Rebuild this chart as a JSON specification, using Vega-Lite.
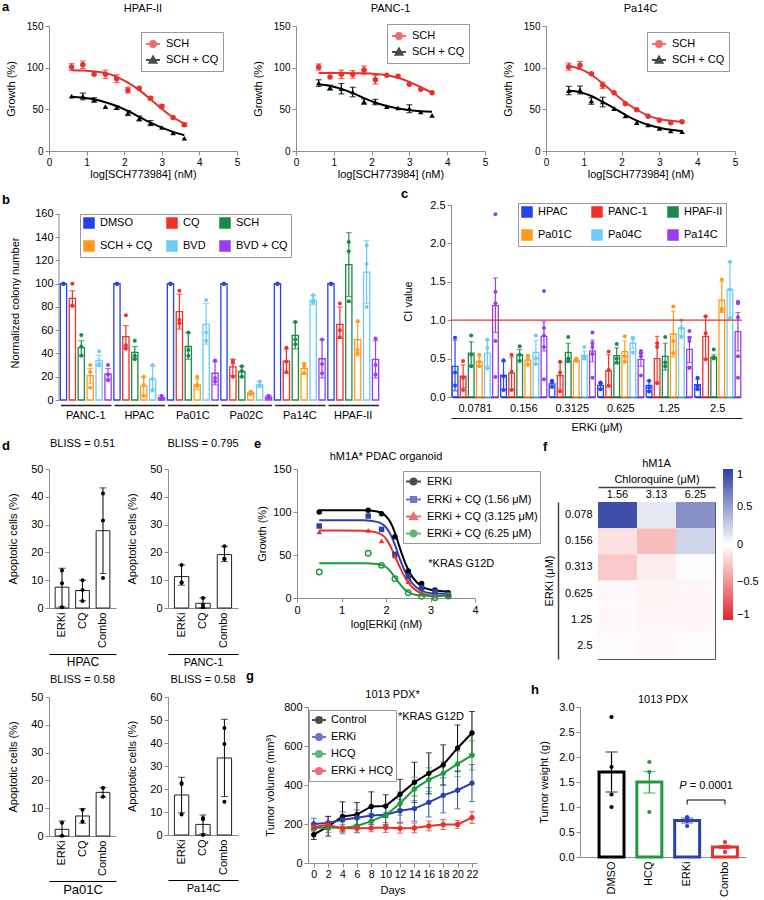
{
"$schema": "https://vega.github.io/schema/vega-lite/v6.json",
"padding": 0,
"background": "white",
"data": {"values": [{"z": 0}]},
"spacing": 0,
"resolve": {"scale": {"color": "independent", "shape": "independent", "xOffset": "independent"}},
"config": {
 "font": "Liberation Sans",
 "view": {"stroke": null},
 "axis": {"labelFontSize": 11, "titleFontSize": 11, "titleFontWeight": "normal", "labelColor": "#000", "titleColor": "#000", "domainColor": "#8c8c8c", "tickColor": "#8c8c8c", "tickSize": 4, "grid": false, "labelPadding": 2, "labelOverlap": false, "labelFlush": false, "labelSeparation": -40},
 "title": {"fontSize": 11, "fontWeight": "normal", "color": "#000"},
 "legend": {"labelFontSize": 11, "labelColor": "#000"},
 "text": {"fontSize": 11}
},
"datasets": {
 "a1p": [
  {"s":"SCH","x":0.6,"y":100.8,"lo":96.8,"hi":104.8},{"s":"SCH","x":0.9,"y":103.6,"lo":99,"hi":108},{"s":"SCH","x":1.2,"y":92},{"s":"SCH","x":1.5,"y":92,"lo":87,"hi":97},{"s":"SCH","x":1.8,"y":86.7,"lo":82,"hi":91.5},{"s":"SCH","x":2.1,"y":73,"lo":69.5,"hi":76.5},{"s":"SCH","x":2.4,"y":75.4},{"s":"SCH","x":2.7,"y":63.3,"lo":61,"hi":65.5},{"s":"SCH","x":3.0,"y":53.6,"lo":51.5,"hi":55.5},{"s":"SCH","x":3.3,"y":40.3},{"s":"SCH","x":3.6,"y":31.5,"lo":29.5,"hi":33.5},
  {"s":"SCH + CQ","x":0.6,"y":65.7},{"s":"SCH + CQ","x":0.9,"y":65.7,"lo":61.5,"hi":69.5},{"s":"SCH + CQ","x":1.2,"y":61.3,"lo":58.5,"hi":64},{"s":"SCH + CQ","x":1.5,"y":53.2},{"s":"SCH + CQ","x":1.8,"y":52,"lo":50,"hi":54},{"s":"SCH + CQ","x":2.1,"y":45.6,"lo":42.5,"hi":48.5},{"s":"SCH + CQ","x":2.4,"y":39,"lo":36,"hi":42},{"s":"SCH + CQ","x":2.7,"y":33.5,"lo":30.5,"hi":36.5},{"s":"SCH + CQ","x":3.0,"y":28.2},{"s":"SCH + CQ","x":3.3,"y":21.8},{"s":"SCH + CQ","x":3.6,"y":15.3}],
 "a1f": [
  {"s":"SCH","x":0.6,"y":97},{"s":"SCH","x":0.9,"y":96.5},{"s":"SCH","x":1.2,"y":95.5},{"s":"SCH","x":1.5,"y":93.5},{"s":"SCH","x":1.8,"y":89},{"s":"SCH","x":2.1,"y":82},{"s":"SCH","x":2.4,"y":73},{"s":"SCH","x":2.7,"y":62},{"s":"SCH","x":3.0,"y":50.5},{"s":"SCH","x":3.3,"y":40.5},{"s":"SCH","x":3.6,"y":33},
  {"s":"SCH + CQ","x":0.6,"y":65},{"s":"SCH + CQ","x":0.9,"y":64},{"s":"SCH + CQ","x":1.2,"y":62},{"s":"SCH + CQ","x":1.5,"y":58.5},{"s":"SCH + CQ","x":1.8,"y":54},{"s":"SCH + CQ","x":2.1,"y":48},{"s":"SCH + CQ","x":2.4,"y":41},{"s":"SCH + CQ","x":2.7,"y":34},{"s":"SCH + CQ","x":3.0,"y":28},{"s":"SCH + CQ","x":3.3,"y":23},{"s":"SCH + CQ","x":3.6,"y":19}],
 "a2p": [
  {"s":"SCH","x":0.6,"y":100.8,"lo":97,"hi":104.5},{"s":"SCH","x":0.9,"y":88.8},{"s":"SCH","x":1.2,"y":92,"lo":87,"hi":97},{"s":"SCH","x":1.5,"y":92,"lo":87.5,"hi":96.5},{"s":"SCH","x":1.8,"y":97.2,"lo":92,"hi":102},{"s":"SCH","x":2.1,"y":85.6,"lo":80.5,"hi":90.5},{"s":"SCH","x":2.4,"y":90.8},{"s":"SCH","x":2.7,"y":89.6},{"s":"SCH","x":3.0,"y":80},{"s":"SCH","x":3.3,"y":74},{"s":"SCH","x":3.6,"y":70},
  {"s":"SCH + CQ","x":0.6,"y":81.6,"lo":77.5,"hi":85.5},{"s":"SCH + CQ","x":0.9,"y":76,"lo":73,"hi":79},{"s":"SCH + CQ","x":1.2,"y":74.8,"lo":68.5,"hi":81},{"s":"SCH + CQ","x":1.5,"y":70.8,"lo":65,"hi":76.5},{"s":"SCH + CQ","x":1.8,"y":59.2,"lo":56,"hi":62.5},{"s":"SCH + CQ","x":2.1,"y":58.8,"lo":55.5,"hi":62},{"s":"SCH + CQ","x":2.4,"y":53.2},{"s":"SCH + CQ","x":2.7,"y":51.6},{"s":"SCH + CQ","x":3.0,"y":50.8,"lo":46,"hi":55.5},{"s":"SCH + CQ","x":3.3,"y":46.8},{"s":"SCH + CQ","x":3.6,"y":42.8}],
 "a2f": [
  {"s":"SCH","x":0.6,"y":93.5},{"s":"SCH","x":0.9,"y":93.5},{"s":"SCH","x":1.2,"y":93.5},{"s":"SCH","x":1.5,"y":93.4},{"s":"SCH","x":1.8,"y":93.2},{"s":"SCH","x":2.1,"y":92.5},{"s":"SCH","x":2.4,"y":91},{"s":"SCH","x":2.7,"y":88},{"s":"SCH","x":3.0,"y":83},{"s":"SCH","x":3.3,"y":76.5},{"s":"SCH","x":3.6,"y":70},
  {"s":"SCH + CQ","x":0.6,"y":80},{"s":"SCH + CQ","x":0.9,"y":78},{"s":"SCH + CQ","x":1.2,"y":74.5},{"s":"SCH + CQ","x":1.5,"y":69.5},{"s":"SCH + CQ","x":1.8,"y":63.5},{"s":"SCH + CQ","x":2.1,"y":58},{"s":"SCH + CQ","x":2.4,"y":54},{"s":"SCH + CQ","x":2.7,"y":51},{"s":"SCH + CQ","x":3.0,"y":49},{"s":"SCH + CQ","x":3.3,"y":47.7},{"s":"SCH + CQ","x":3.6,"y":47}],
 "a3p": [
  {"s":"SCH","x":0.6,"y":101.2,"lo":97,"hi":105.5},{"s":"SCH","x":0.9,"y":102.8,"lo":98,"hi":107.5},{"s":"SCH","x":1.2,"y":92.8},{"s":"SCH","x":1.5,"y":78.8,"lo":75,"hi":82.5},{"s":"SCH","x":1.8,"y":70},{"s":"SCH","x":2.1,"y":56.8},{"s":"SCH","x":2.4,"y":49.6},{"s":"SCH","x":2.7,"y":41.6},{"s":"SCH","x":3.0,"y":36.8},{"s":"SCH","x":3.3,"y":34},{"s":"SCH","x":3.6,"y":35.2},
  {"s":"SCH + CQ","x":0.6,"y":72.4,"lo":67.5,"hi":77.5},{"s":"SCH + CQ","x":0.9,"y":73.2,"lo":68.5,"hi":78},{"s":"SCH + CQ","x":1.2,"y":60,"lo":56,"hi":64},{"s":"SCH + CQ","x":1.5,"y":58.8,"lo":53,"hi":64.5},{"s":"SCH + CQ","x":1.8,"y":50.8},{"s":"SCH + CQ","x":2.1,"y":42},{"s":"SCH + CQ","x":2.4,"y":34},{"s":"SCH + CQ","x":2.7,"y":31.2},{"s":"SCH + CQ","x":3.0,"y":27.2},{"s":"SCH + CQ","x":3.3,"y":24},{"s":"SCH + CQ","x":3.6,"y":23.2}],
 "a3f": [
  {"s":"SCH","x":0.6,"y":102},{"s":"SCH","x":0.9,"y":98.5},{"s":"SCH","x":1.2,"y":91.5},{"s":"SCH","x":1.5,"y":81},{"s":"SCH","x":1.8,"y":69.5},{"s":"SCH","x":2.1,"y":58.5},{"s":"SCH","x":2.4,"y":49.5},{"s":"SCH","x":2.7,"y":42.5},{"s":"SCH","x":3.0,"y":38.5},{"s":"SCH","x":3.3,"y":36.3},{"s":"SCH","x":3.6,"y":35.3},
  {"s":"SCH + CQ","x":0.6,"y":72.5},{"s":"SCH + CQ","x":0.9,"y":70.5},{"s":"SCH + CQ","x":1.2,"y":66},{"s":"SCH + CQ","x":1.5,"y":59},{"s":"SCH + CQ","x":1.8,"y":51.5},{"s":"SCH + CQ","x":2.1,"y":43.5},{"s":"SCH + CQ","x":2.4,"y":36.5},{"s":"SCH + CQ","x":2.7,"y":31.5},{"s":"SCH + CQ","x":3.0,"y":28},{"s":"SCH + CQ","x":3.3,"y":25.5},{"s":"SCH + CQ","x":3.6,"y":24}],
 "bb": [
  {"g":"PANC-1","t":"DMSO","m":100},{"g":"PANC-1","t":"CQ","m":87.5,"lo":81,"hi":94},{"g":"PANC-1","t":"SCH","m":45,"lo":38.5,"hi":51},{"g":"PANC-1","t":"SCH + CQ","m":21,"lo":14,"hi":27},{"g":"PANC-1","t":"BVD","m":34,"lo":29,"hi":38.5},{"g":"PANC-1","t":"BVD + CQ","m":22.5,"lo":18,"hi":27},
  {"g":"HPAC","t":"DMSO","m":100},{"g":"HPAC","t":"CQ","m":54.5,"lo":45,"hi":64},{"g":"HPAC","t":"SCH","m":41,"lo":36,"hi":46},{"g":"HPAC","t":"SCH + CQ","m":12,"lo":4,"hi":20},{"g":"HPAC","t":"BVD","m":18,"lo":7,"hi":29},{"g":"HPAC","t":"BVD + CQ","m":2,"lo":0,"hi":4},
  {"g":"Pa01C","t":"DMSO","m":100},{"g":"Pa01C","t":"CQ","m":76,"lo":61,"hi":91},{"g":"Pa01C","t":"SCH","m":46,"lo":35,"hi":58},{"g":"Pa01C","t":"SCH + CQ","m":13,"lo":9,"hi":18},{"g":"Pa01C","t":"BVD","m":65,"lo":48,"hi":83},{"g":"Pa01C","t":"BVD + CQ","m":23,"lo":13,"hi":33},
  {"g":"Pa02C","t":"DMSO","m":100},{"g":"Pa02C","t":"CQ","m":28.5,"lo":21,"hi":35},{"g":"Pa02C","t":"SCH","m":24.5,"lo":20,"hi":29},{"g":"Pa02C","t":"SCH + CQ","m":6,"lo":5,"hi":7},{"g":"Pa02C","t":"BVD","m":13,"lo":11,"hi":16},{"g":"Pa02C","t":"BVD + CQ","m":2.5,"lo":1,"hi":4},
  {"g":"Pa14C","t":"DMSO","m":100},{"g":"Pa14C","t":"CQ","m":33.5,"lo":23,"hi":44},{"g":"Pa14C","t":"SCH","m":55.5,"lo":44,"hi":67},{"g":"Pa14C","t":"SCH + CQ","m":27,"lo":22,"hi":32},{"g":"Pa14C","t":"BVD","m":85.5,"lo":82,"hi":90},{"g":"Pa14C","t":"BVD + CQ","m":35.5,"lo":19,"hi":52},
  {"g":"HPAF-II","t":"DMSO","m":100},{"g":"HPAF-II","t":"CQ","m":65,"lo":53,"hi":80},{"g":"HPAF-II","t":"SCH","m":116.5,"lo":89,"hi":144},{"g":"HPAF-II","t":"SCH + CQ","m":52,"lo":38,"hi":67},{"g":"HPAF-II","t":"BVD","m":110,"lo":83,"hi":137},{"g":"HPAF-II","t":"BVD + CQ","m":35,"lo":19,"hi":51}],
 "bp": [
  {"g":"PANC-1","t":"DMSO","v":100},{"g":"PANC-1","t":"DMSO","v":100},{"g":"PANC-1","t":"DMSO","v":100},{"g":"PANC-1","t":"CQ","v":100},{"g":"PANC-1","t":"CQ","v":81},{"g":"PANC-1","t":"CQ","v":81},{"g":"PANC-1","t":"SCH","v":56},{"g":"PANC-1","t":"SCH","v":46},{"g":"PANC-1","t":"SCH","v":38},{"g":"PANC-1","t":"SCH + CQ","v":30},{"g":"PANC-1","t":"SCH + CQ","v":24},{"g":"PANC-1","t":"SCH + CQ","v":10.5},{"g":"PANC-1","t":"BVD","v":42},{"g":"PANC-1","t":"BVD","v":31},{"g":"PANC-1","t":"BVD","v":30},{"g":"PANC-1","t":"BVD + CQ","v":30},{"g":"PANC-1","t":"BVD + CQ","v":22},{"g":"PANC-1","t":"BVD + CQ","v":17},
  {"g":"HPAC","t":"DMSO","v":100},{"g":"HPAC","t":"DMSO","v":100},{"g":"HPAC","t":"DMSO","v":100},{"g":"HPAC","t":"CQ","v":73},{"g":"HPAC","t":"CQ","v":47},{"g":"HPAC","t":"CQ","v":44},{"g":"HPAC","t":"SCH","v":51},{"g":"HPAC","t":"SCH","v":38},{"g":"HPAC","t":"SCH","v":35},{"g":"HPAC","t":"SCH + CQ","v":20},{"g":"HPAC","t":"SCH + CQ","v":13},{"g":"HPAC","t":"SCH + CQ","v":3.5},{"g":"HPAC","t":"BVD","v":30},{"g":"HPAC","t":"BVD","v":18},{"g":"HPAC","t":"BVD","v":8.5},{"g":"HPAC","t":"BVD + CQ","v":3.5},{"g":"HPAC","t":"BVD + CQ","v":1.5},{"g":"HPAC","t":"BVD + CQ","v":1},
  {"g":"Pa01C","t":"DMSO","v":100},{"g":"Pa01C","t":"DMSO","v":100},{"g":"Pa01C","t":"DMSO","v":100},{"g":"Pa01C","t":"CQ","v":94},{"g":"Pa01C","t":"CQ","v":69},{"g":"Pa01C","t":"CQ","v":66},{"g":"Pa01C","t":"SCH","v":58},{"g":"Pa01C","t":"SCH","v":43},{"g":"Pa01C","t":"SCH","v":38},{"g":"Pa01C","t":"SCH + CQ","v":20},{"g":"Pa01C","t":"SCH + CQ","v":13},{"g":"Pa01C","t":"SCH + CQ","v":12},{"g":"Pa01C","t":"BVD","v":86},{"g":"Pa01C","t":"BVD","v":58},{"g":"Pa01C","t":"BVD","v":51},{"g":"Pa01C","t":"BVD + CQ","v":34},{"g":"Pa01C","t":"BVD + CQ","v":19},{"g":"Pa01C","t":"BVD + CQ","v":16},
  {"g":"Pa02C","t":"DMSO","v":100},{"g":"Pa02C","t":"DMSO","v":100},{"g":"Pa02C","t":"DMSO","v":100},{"g":"Pa02C","t":"CQ","v":34},{"g":"Pa02C","t":"CQ","v":32},{"g":"Pa02C","t":"CQ","v":20},{"g":"Pa02C","t":"SCH","v":29},{"g":"Pa02C","t":"SCH","v":25},{"g":"Pa02C","t":"SCH","v":20},{"g":"Pa02C","t":"SCH + CQ","v":7},{"g":"Pa02C","t":"SCH + CQ","v":6},{"g":"Pa02C","t":"SCH + CQ","v":5},{"g":"Pa02C","t":"BVD","v":16},{"g":"Pa02C","t":"BVD","v":13},{"g":"Pa02C","t":"BVD","v":12},{"g":"Pa02C","t":"BVD + CQ","v":3.5},{"g":"Pa02C","t":"BVD + CQ","v":2},{"g":"Pa02C","t":"BVD + CQ","v":2},
  {"g":"Pa14C","t":"DMSO","v":100},{"g":"Pa14C","t":"DMSO","v":100},{"g":"Pa14C","t":"DMSO","v":100},{"g":"Pa14C","t":"CQ","v":45},{"g":"Pa14C","t":"CQ","v":33},{"g":"Pa14C","t":"CQ","v":24},{"g":"Pa14C","t":"SCH","v":67},{"g":"Pa14C","t":"SCH","v":52},{"g":"Pa14C","t":"SCH","v":48},{"g":"Pa14C","t":"SCH + CQ","v":31},{"g":"Pa14C","t":"SCH + CQ","v":29},{"g":"Pa14C","t":"SCH + CQ","v":23},{"g":"Pa14C","t":"BVD","v":90},{"g":"Pa14C","t":"BVD","v":86},{"g":"Pa14C","t":"BVD","v":84},{"g":"Pa14C","t":"BVD + CQ","v":52},{"g":"Pa14C","t":"BVD + CQ","v":31},{"g":"Pa14C","t":"BVD + CQ","v":23},
  {"g":"HPAF-II","t":"DMSO","v":100},{"g":"HPAF-II","t":"DMSO","v":100},{"g":"HPAF-II","t":"DMSO","v":100},{"g":"HPAF-II","t":"CQ","v":83},{"g":"HPAF-II","t":"CQ","v":60},{"g":"HPAF-II","t":"CQ","v":54},{"g":"HPAF-II","t":"SCH","v":136},{"g":"HPAF-II","t":"SCH","v":128},{"g":"HPAF-II","t":"SCH","v":85},{"g":"HPAF-II","t":"SCH + CQ","v":68},{"g":"HPAF-II","t":"SCH + CQ","v":43},{"g":"HPAF-II","t":"SCH + CQ","v":40},{"g":"HPAF-II","t":"BVD","v":133},{"g":"HPAF-II","t":"BVD","v":117},{"g":"HPAF-II","t":"BVD","v":80},{"g":"HPAF-II","t":"BVD + CQ","v":53},{"g":"HPAF-II","t":"BVD + CQ","v":30},{"g":"HPAF-II","t":"BVD + CQ","v":22}],
 "cb": [
  {"g":"0.0781","t":"HPAC","m":0.40,"lo":0.08,"hi":0.74},{"g":"0.0781","t":"PANC-1","m":0.27,"lo":0.12,"hi":0.42},{"g":"0.0781","t":"HPAF-II","m":0.57,"lo":0.42,"hi":0.72},{"g":"0.0781","t":"Pa01C","m":0.46,"lo":0.40,"hi":0.52},{"g":"0.0781","t":"Pa04C","m":0.57,"lo":0.40,"hi":0.74},{"g":"0.0781","t":"Pa14C","m":1.19,"lo":0.84,"hi":1.55},
  {"g":"0.156","t":"HPAC","m":0.28,"lo":0.10,"hi":0.46},{"g":"0.156","t":"PANC-1","m":0.31,"lo":0.10,"hi":0.52},{"g":"0.156","t":"HPAF-II","m":0.55,"lo":0.48,"hi":0.62},{"g":"0.156","t":"Pa01C","m":0.48,"lo":0.43,"hi":0.53},{"g":"0.156","t":"Pa04C","m":0.58,"lo":0.42,"hi":0.74},{"g":"0.156","t":"Pa14C","m":0.79,"lo":0.60,"hi":0.98},
  {"g":"0.3125","t":"HPAC","m":0.17,"lo":0.14,"hi":0.20},{"g":"0.3125","t":"PANC-1","m":0.28,"lo":0.10,"hi":0.45},{"g":"0.3125","t":"HPAF-II","m":0.58,"lo":0.45,"hi":0.70},{"g":"0.3125","t":"Pa01C","m":0.48,"lo":0.47,"hi":0.50},{"g":"0.3125","t":"Pa04C","m":0.54,"lo":0.49,"hi":0.60},{"g":"0.3125","t":"Pa14C","m":0.60,"lo":0.46,"hi":0.74},
  {"g":"0.625","t":"HPAC","m":0.15,"lo":0.11,"hi":0.18},{"g":"0.625","t":"PANC-1","m":0.34,"lo":0.13,"hi":0.55},{"g":"0.625","t":"HPAF-II","m":0.54,"lo":0.43,"hi":0.64},{"g":"0.625","t":"Pa01C","m":0.59,"lo":0.45,"hi":0.73},{"g":"0.625","t":"Pa04C","m":0.70,"lo":0.63,"hi":0.78},{"g":"0.625","t":"Pa14C","m":0.49,"lo":0.40,"hi":0.58},
  {"g":"1.25","t":"HPAC","m":0.15,"lo":0.08,"hi":0.21},{"g":"1.25","t":"PANC-1","m":0.50,"lo":0.20,"hi":0.79},{"g":"1.25","t":"HPAF-II","m":0.53,"lo":0.35,"hi":0.70},{"g":"1.25","t":"Pa01C","m":0.82,"lo":0.52,"hi":1.12},{"g":"1.25","t":"Pa04C","m":0.90,"lo":0.80,"hi":1.00},{"g":"1.25","t":"Pa14C","m":0.62,"lo":0.45,"hi":0.78},
  {"g":"2.5","t":"HPAC","m":0.16,"lo":0.10,"hi":0.23},{"g":"2.5","t":"PANC-1","m":0.79,"lo":0.50,"hi":1.05},{"g":"2.5","t":"HPAF-II","m":0.52,"lo":0.50,"hi":0.55},{"g":"2.5","t":"Pa01C","m":1.26,"lo":1.10,"hi":1.50},{"g":"2.5","t":"Pa04C","m":1.40,"lo":1.03,"hi":1.76},{"g":"2.5","t":"Pa14C","m":0.85,"lo":0.60,"hi":1.10}],
 "cp": [
  {"g":"0.0781","t":"HPAC","v":0.77},{"g":"0.0781","t":"HPAC","v":0.32},{"g":"0.0781","t":"HPAC","v":0.15},{"g":"0.0781","t":"PANC-1","v":0.47},{"g":"0.0781","t":"PANC-1","v":0.25},{"g":"0.0781","t":"PANC-1","v":0.09},{"g":"0.0781","t":"HPAF-II","v":0.80},{"g":"0.0781","t":"HPAF-II","v":0.55},{"g":"0.0781","t":"HPAF-II","v":0.40},{"g":"0.0781","t":"Pa01C","v":0.55},{"g":"0.0781","t":"Pa01C","v":0.46},{"g":"0.0781","t":"Pa01C","v":0.40},{"g":"0.0781","t":"Pa04C","v":0.75},{"g":"0.0781","t":"Pa04C","v":0.64},{"g":"0.0781","t":"Pa04C","v":0.37},{"g":"0.0781","t":"Pa14C","v":2.38},{"g":"0.0781","t":"Pa14C","v":1.37},{"g":"0.0781","t":"Pa14C","v":1.22},{"g":"0.0781","t":"Pa14C","v":0.73},{"g":"0.0781","t":"Pa14C","v":0.26},
  {"g":"0.156","t":"HPAC","v":0.48},{"g":"0.156","t":"HPAC","v":0.27},{"g":"0.156","t":"HPAC","v":0.09},{"g":"0.156","t":"PANC-1","v":0.55},{"g":"0.156","t":"PANC-1","v":0.33},{"g":"0.156","t":"PANC-1","v":0.09},{"g":"0.156","t":"HPAF-II","v":0.66},{"g":"0.156","t":"HPAF-II","v":0.55},{"g":"0.156","t":"HPAF-II","v":0.47},{"g":"0.156","t":"Pa01C","v":0.54},{"g":"0.156","t":"Pa01C","v":0.50},{"g":"0.156","t":"Pa01C","v":0.42},{"g":"0.156","t":"Pa04C","v":0.80},{"g":"0.156","t":"Pa04C","v":0.50},{"g":"0.156","t":"Pa04C","v":0.43},{"g":"0.156","t":"Pa14C","v":1.38},{"g":"0.156","t":"Pa14C","v":0.90},{"g":"0.156","t":"Pa14C","v":0.80},{"g":"0.156","t":"Pa14C","v":0.65},{"g":"0.156","t":"Pa14C","v":0.23},
  {"g":"0.3125","t":"HPAC","v":0.21},{"g":"0.3125","t":"HPAC","v":0.20},{"g":"0.3125","t":"HPAC","v":0.13},{"g":"0.3125","t":"PANC-1","v":0.46},{"g":"0.3125","t":"PANC-1","v":0.32},{"g":"0.3125","t":"PANC-1","v":0.07},{"g":"0.3125","t":"HPAF-II","v":0.78},{"g":"0.3125","t":"HPAF-II","v":0.50},{"g":"0.3125","t":"HPAF-II","v":0.47},{"g":"0.3125","t":"Pa01C","v":0.50},{"g":"0.3125","t":"Pa01C","v":0.48},{"g":"0.3125","t":"Pa01C","v":0.47},{"g":"0.3125","t":"Pa04C","v":0.65},{"g":"0.3125","t":"Pa04C","v":0.53},{"g":"0.3125","t":"Pa04C","v":0.50},{"g":"0.3125","t":"Pa14C","v":0.84},{"g":"0.3125","t":"Pa14C","v":0.70},{"g":"0.3125","t":"Pa14C","v":0.65},{"g":"0.3125","t":"Pa14C","v":0.56},{"g":"0.3125","t":"Pa14C","v":0.25},
  {"g":"0.625","t":"HPAC","v":0.19},{"g":"0.625","t":"HPAC","v":0.18},{"g":"0.625","t":"HPAC","v":0.10},{"g":"0.625","t":"PANC-1","v":0.59},{"g":"0.625","t":"PANC-1","v":0.35},{"g":"0.625","t":"PANC-1","v":0.15},{"g":"0.625","t":"HPAF-II","v":0.69},{"g":"0.625","t":"HPAF-II","v":0.50},{"g":"0.625","t":"HPAF-II","v":0.45},{"g":"0.625","t":"Pa01C","v":0.79},{"g":"0.625","t":"Pa01C","v":0.53},{"g":"0.625","t":"Pa01C","v":0.46},{"g":"0.625","t":"Pa04C","v":0.77},{"g":"0.625","t":"Pa04C","v":0.76},{"g":"0.625","t":"Pa04C","v":0.58},{"g":"0.625","t":"Pa14C","v":0.60},{"g":"0.625","t":"Pa14C","v":0.57},{"g":"0.625","t":"Pa14C","v":0.53},{"g":"0.625","t":"Pa14C","v":0.28},
  {"g":"1.25","t":"HPAC","v":0.21},{"g":"1.25","t":"HPAC","v":0.12},{"g":"1.25","t":"HPAC","v":0.07},{"g":"1.25","t":"PANC-1","v":0.70},{"g":"1.25","t":"PANC-1","v":0.65},{"g":"1.25","t":"PANC-1","v":0.18},{"g":"1.25","t":"HPAF-II","v":0.78},{"g":"1.25","t":"HPAF-II","v":0.45},{"g":"1.25","t":"HPAF-II","v":0.40},{"g":"1.25","t":"Pa01C","v":1.18},{"g":"1.25","t":"Pa01C","v":0.73},{"g":"1.25","t":"Pa01C","v":0.57},{"g":"1.25","t":"Pa04C","v":1.00},{"g":"1.25","t":"Pa04C","v":0.90},{"g":"1.25","t":"Pa04C","v":0.78},{"g":"1.25","t":"Pa14C","v":0.86},{"g":"1.25","t":"Pa14C","v":0.77},{"g":"1.25","t":"Pa14C","v":0.73},{"g":"1.25","t":"Pa14C","v":0.38},{"g":"1.25","t":"Pa14C","v":0.38},
  {"g":"2.5","t":"HPAC","v":0.25},{"g":"2.5","t":"HPAC","v":0.14},{"g":"2.5","t":"HPAC","v":0.10},{"g":"2.5","t":"PANC-1","v":1.05},{"g":"2.5","t":"PANC-1","v":0.83},{"g":"2.5","t":"PANC-1","v":0.49},{"g":"2.5","t":"HPAF-II","v":0.62},{"g":"2.5","t":"HPAF-II","v":0.51},{"g":"2.5","t":"HPAF-II","v":0.50},{"g":"2.5","t":"Pa01C","v":1.53},{"g":"2.5","t":"Pa01C","v":1.15},{"g":"2.5","t":"Pa01C","v":1.12},{"g":"2.5","t":"Pa04C","v":1.76},{"g":"2.5","t":"Pa04C","v":1.40},{"g":"2.5","t":"Pa04C","v":1.03},{"g":"2.5","t":"Pa14C","v":1.24},{"g":"2.5","t":"Pa14C","v":1.22},{"g":"2.5","t":"Pa14C","v":1.04},{"g":"2.5","t":"Pa14C","v":0.53},{"g":"2.5","t":"Pa14C","v":0.25}],
 "d1b": [{"c":"ERKi","m":7.5,"lo":0.5,"hi":14.3},{"c":"CQ","m":6.3,"lo":2.6,"hi":10},{"c":"Combo","m":27.8,"lo":12.4,"hi":43.2}],
 "d1p": [{"c":"ERKi","v":13.5},{"c":"ERKi","v":8.9},{"c":"ERKi","v":0.3},{"c":"CQ","v":10},{"c":"CQ","v":6.5},{"c":"CQ","v":2.5},{"c":"Combo","v":41.2},{"c":"Combo","v":31.5},{"c":"Combo","v":10.8}],
 "d2b": [{"c":"ERKi","m":11.3,"lo":8.2,"hi":15.5},{"c":"CQ","m":1.7,"lo":0,"hi":3.7},{"c":"Combo","m":19.2,"lo":16.7,"hi":22.2}],
 "d2p": [{"c":"ERKi","v":15.5},{"c":"ERKi","v":9.3},{"c":"ERKi","v":9.1},{"c":"CQ","v":3.6},{"c":"CQ","v":1.2},{"c":"CQ","v":0.3},{"c":"Combo","v":22.2},{"c":"Combo","v":17.7},{"c":"Combo","v":17.6}],
 "d3b": [{"c":"ERKi","m":2.4,"lo":0,"hi":5.4},{"c":"CQ","m":7.2,"lo":4.6,"hi":9.8},{"c":"Combo","m":15.7,"lo":14,"hi":17.5}],
 "d3p": [{"c":"ERKi","v":4.8},{"c":"ERKi","v":0.1},{"c":"CQ","v":9.4},{"c":"CQ","v":5.2},{"c":"Combo","v":17.3},{"c":"Combo","v":14.1}],
 "d4b": [{"c":"ERKi","m":17.4,"lo":9.7,"hi":25.1},{"c":"CQ","m":4.6,"lo":0.5,"hi":8.7},{"c":"Combo","m":33.5,"lo":16.7,"hi":50.3}],
 "d4p": [{"c":"ERKi","v":22.6},{"c":"ERKi","v":22.2},{"c":"ERKi","v":8.9},{"c":"CQ","v":7.4},{"c":"CQ","v":6.8},{"c":"CQ","v":0},{"c":"Combo","v":46.5},{"c":"Combo","v":39.6},{"c":"Combo","v":14.5}],
 "ep": [
  {"s":"ERKi","x":0.5,"y":100},{"s":"ERKi","x":1.6,"y":102},{"s":"ERKi","x":1.9,"y":98},{"s":"ERKi","x":2.2,"y":71.3},{"s":"ERKi","x":2.5,"y":31.4},{"s":"ERKi","x":2.8,"y":17},{"s":"ERKi","x":3.1,"y":9.3},{"s":"ERKi","x":3.4,"y":6.2},
  {"s":"ERKi + CQ (1.56 μM)","x":0.5,"y":83.7},{"s":"ERKi + CQ (1.56 μM)","x":1.6,"y":95.3},{"s":"ERKi + CQ (1.56 μM)","x":1.9,"y":79.8},{"s":"ERKi + CQ (1.56 μM)","x":2.2,"y":50.8},{"s":"ERKi + CQ (1.56 μM)","x":2.5,"y":25.2},{"s":"ERKi + CQ (1.56 μM)","x":2.8,"y":12},{"s":"ERKi + CQ (1.56 μM)","x":3.1,"y":7},{"s":"ERKi + CQ (1.56 μM)","x":3.4,"y":4.3},
  {"s":"ERKi + CQ (3.125 μM)","x":0.5,"y":77},{"s":"ERKi + CQ (3.125 μM)","x":1.6,"y":78.7},{"s":"ERKi + CQ (3.125 μM)","x":1.9,"y":66.3},{"s":"ERKi + CQ (3.125 μM)","x":2.2,"y":48.8},{"s":"ERKi + CQ (3.125 μM)","x":2.5,"y":19},{"s":"ERKi + CQ (3.125 μM)","x":2.8,"y":6.2},{"s":"ERKi + CQ (3.125 μM)","x":3.1,"y":3},{"s":"ERKi + CQ (3.125 μM)","x":3.4,"y":1.5},
  {"s":"ERKi + CQ (6.25 μM)","x":0.5,"y":30.2},{"s":"ERKi + CQ (6.25 μM)","x":1.6,"y":52},{"s":"ERKi + CQ (6.25 μM)","x":1.9,"y":38},{"s":"ERKi + CQ (6.25 μM)","x":2.2,"y":22.5},{"s":"ERKi + CQ (6.25 μM)","x":2.5,"y":6.2},{"s":"ERKi + CQ (6.25 μM)","x":2.8,"y":1.9},{"s":"ERKi + CQ (6.25 μM)","x":3.1,"y":0.4},{"s":"ERKi + CQ (6.25 μM)","x":3.4,"y":2.3}],
 "ef": [
  {"s":"ERKi","x":0.5,"y":102},{"s":"ERKi","x":1.0,"y":102},{"s":"ERKi","x":1.5,"y":102},{"s":"ERKi","x":1.8,"y":100.5},{"s":"ERKi","x":2.0,"y":95},{"s":"ERKi","x":2.1,"y":88},{"s":"ERKi","x":2.2,"y":76},{"s":"ERKi","x":2.3,"y":60},{"s":"ERKi","x":2.4,"y":45},{"s":"ERKi","x":2.5,"y":33},{"s":"ERKi","x":2.6,"y":24},{"s":"ERKi","x":2.8,"y":13.5},{"s":"ERKi","x":3.0,"y":9.5},{"s":"ERKi","x":3.4,"y":7.5},
  {"s":"ERKi + CQ (1.56 μM)","x":0.5,"y":90.5},{"s":"ERKi + CQ (1.56 μM)","x":1.0,"y":90.5},{"s":"ERKi + CQ (1.56 μM)","x":1.5,"y":90.3},{"s":"ERKi + CQ (1.56 μM)","x":1.8,"y":88.5},{"s":"ERKi + CQ (1.56 μM)","x":2.0,"y":82},{"s":"ERKi + CQ (1.56 μM)","x":2.1,"y":74},{"s":"ERKi + CQ (1.56 μM)","x":2.2,"y":62},{"s":"ERKi + CQ (1.56 μM)","x":2.3,"y":47},{"s":"ERKi + CQ (1.56 μM)","x":2.4,"y":34},{"s":"ERKi + CQ (1.56 μM)","x":2.5,"y":24},{"s":"ERKi + CQ (1.56 μM)","x":2.6,"y":16.5},{"s":"ERKi + CQ (1.56 μM)","x":2.8,"y":8.5},{"s":"ERKi + CQ (1.56 μM)","x":3.0,"y":5.5},{"s":"ERKi + CQ (1.56 μM)","x":3.4,"y":4.8},
  {"s":"ERKi + CQ (3.125 μM)","x":0.5,"y":78.5},{"s":"ERKi + CQ (3.125 μM)","x":1.0,"y":78.5},{"s":"ERKi + CQ (3.125 μM)","x":1.5,"y":78.2},{"s":"ERKi + CQ (3.125 μM)","x":1.8,"y":76},{"s":"ERKi + CQ (3.125 μM)","x":2.0,"y":69},{"s":"ERKi + CQ (3.125 μM)","x":2.1,"y":60},{"s":"ERKi + CQ (3.125 μM)","x":2.2,"y":49},{"s":"ERKi + CQ (3.125 μM)","x":2.3,"y":37},{"s":"ERKi + CQ (3.125 μM)","x":2.4,"y":26.5},{"s":"ERKi + CQ (3.125 μM)","x":2.5,"y":18},{"s":"ERKi + CQ (3.125 μM)","x":2.6,"y":12},{"s":"ERKi + CQ (3.125 μM)","x":2.8,"y":5.5},{"s":"ERKi + CQ (3.125 μM)","x":3.0,"y":3},{"s":"ERKi + CQ (3.125 μM)","x":3.4,"y":2.3},
  {"s":"ERKi + CQ (6.25 μM)","x":0.5,"y":40.5},{"s":"ERKi + CQ (6.25 μM)","x":1.0,"y":40.5},{"s":"ERKi + CQ (6.25 μM)","x":1.5,"y":40.3},{"s":"ERKi + CQ (6.25 μM)","x":1.8,"y":39.5},{"s":"ERKi + CQ (6.25 μM)","x":2.0,"y":36},{"s":"ERKi + CQ (6.25 μM)","x":2.1,"y":31},{"s":"ERKi + CQ (6.25 μM)","x":2.2,"y":24},{"s":"ERKi + CQ (6.25 μM)","x":2.3,"y":17},{"s":"ERKi + CQ (6.25 μM)","x":2.4,"y":11},{"s":"ERKi + CQ (6.25 μM)","x":2.5,"y":7},{"s":"ERKi + CQ (6.25 μM)","x":2.6,"y":4.5},{"s":"ERKi + CQ (6.25 μM)","x":2.8,"y":2.8},{"s":"ERKi + CQ (6.25 μM)","x":3.0,"y":2.4},{"s":"ERKi + CQ (6.25 μM)","x":3.4,"y":2.3}],
 "fh": [
  {"r":"0.078","c":"1.56","v":0.92},{"r":"0.078","c":"3.13","v":0.12},{"r":"0.078","c":"6.25","v":0.58},
  {"r":"0.156","c":"1.56","v":-0.14},{"r":"0.156","c":"3.13","v":-0.3},{"r":"0.156","c":"6.25","v":0.22},
  {"r":"0.313","c":"1.56","v":-0.25},{"r":"0.313","c":"3.13","v":-0.08},{"r":"0.313","c":"6.25","v":0.02},
  {"r":"0.625","c":"1.56","v":-0.03},{"r":"0.625","c":"3.13","v":-0.05},{"r":"0.625","c":"6.25","v":-0.04},
  {"r":"1.25","c":"1.56","v":-0.03},{"r":"1.25","c":"3.13","v":-0.04},{"r":"1.25","c":"6.25","v":-0.04},
  {"r":"2.5","c":"1.56","v":-0.02},{"r":"2.5","c":"3.13","v":-0.03},{"r":"2.5","c":"6.25","v":-0.02}],
 "gd": [
  {"s":"Control","d":0,"v":145,"lo":120,"hi":170},{"s":"Control","d":2,"v":188,"lo":138,"hi":238},{"s":"Control","d":4,"v":239,"lo":164,"hi":314},{"s":"Control","d":6,"v":248,"lo":186,"hi":310},{"s":"Control","d":8,"v":290,"lo":215,"hi":365},{"s":"Control","d":10,"v":292,"lo":234,"hi":350},{"s":"Control","d":12,"v":352,"lo":275,"hi":429},{"s":"Control","d":14,"v":414,"lo":311,"hi":517},{"s":"Control","d":16,"v":460,"lo":355,"hi":565},{"s":"Control","d":18,"v":503,"lo":400,"hi":606},{"s":"Control","d":20,"v":590,"lo":472,"hi":708},{"s":"Control","d":22,"v":667,"lo":557,"hi":777},
  {"s":"ERKi","d":0,"v":200,"lo":170,"hi":230},{"s":"ERKi","d":2,"v":205,"lo":170,"hi":240},{"s":"ERKi","d":4,"v":222,"lo":182,"hi":262},{"s":"ERKi","d":6,"v":232,"lo":192,"hi":272},{"s":"ERKi","d":8,"v":243,"lo":198,"hi":288},{"s":"ERKi","d":10,"v":248,"lo":198,"hi":298},{"s":"ERKi","d":12,"v":268,"lo":208,"hi":328},{"s":"ERKi","d":14,"v":279,"lo":214,"hi":344},{"s":"ERKi","d":16,"v":311,"lo":236,"hi":386},{"s":"ERKi","d":18,"v":347,"lo":257,"hi":437},{"s":"ERKi","d":20,"v":373,"lo":278,"hi":468},{"s":"ERKi","d":22,"v":410,"lo":315,"hi":505},
  {"s":"HCQ","d":0,"v":180,"lo":160,"hi":200},{"s":"HCQ","d":2,"v":182,"lo":157,"hi":207},{"s":"HCQ","d":4,"v":180,"lo":150,"hi":210},{"s":"HCQ","d":6,"v":190,"lo":155,"hi":225},{"s":"HCQ","d":8,"v":215,"lo":175,"hi":255},{"s":"HCQ","d":10,"v":245,"lo":195,"hi":295},{"s":"HCQ","d":12,"v":305,"lo":245,"hi":365},{"s":"HCQ","d":14,"v":380,"lo":320,"hi":440},{"s":"HCQ","d":16,"v":428,"lo":368,"hi":488},{"s":"HCQ","d":18,"v":460,"lo":400,"hi":520},{"s":"HCQ","d":20,"v":508,"lo":443,"hi":573},{"s":"HCQ","d":22,"v":552,"lo":477,"hi":627},
  {"s":"ERKi + HCQ","d":0,"v":185,"lo":170,"hi":200},{"s":"ERKi + HCQ","d":2,"v":195,"lo":175,"hi":215},{"s":"ERKi + HCQ","d":4,"v":178,"lo":158,"hi":198},{"s":"ERKi + HCQ","d":6,"v":178,"lo":158,"hi":198},{"s":"ERKi + HCQ","d":8,"v":180,"lo":160,"hi":200},{"s":"ERKi + HCQ","d":10,"v":182,"lo":157,"hi":207},{"s":"ERKi + HCQ","d":12,"v":178,"lo":153,"hi":203},{"s":"ERKi + HCQ","d":14,"v":180,"lo":155,"hi":205},{"s":"ERKi + HCQ","d":16,"v":190,"lo":165,"hi":215},{"s":"ERKi + HCQ","d":18,"v":197,"lo":172,"hi":222},{"s":"ERKi + HCQ","d":20,"v":198,"lo":178,"hi":218},{"s":"ERKi + HCQ","d":22,"v":233,"lo":203,"hi":263}],
 "hb": [{"c":"DMSO","m":1.7,"lo":1.3,"hi":2.1},{"c":"HCQ","m":1.5,"lo":1.28,"hi":1.71},{"c":"ERKi","m":0.73,"lo":0.68,"hi":0.78},{"c":"Combo","m":0.2,"lo":0.17,"hi":0.23}],
 "hp": [{"c":"DMSO","v":2.8},{"c":"DMSO","v":1.8},{"c":"DMSO","v":1.25},{"c":"DMSO","v":1.0},{"c":"HCQ","v":1.9},{"c":"HCQ","v":1.7},{"c":"HCQ","v":0.9},{"c":"ERKi","v":0.8},{"c":"ERKi","v":0.78},{"c":"ERKi","v":0.72},{"c":"ERKi","v":0.62},{"c":"Combo","v":0.3},{"c":"Combo","v":0.21},{"c":"Combo","v":0.2},{"c":"Combo","v":0.1}],
 "hbr": [{"a":"ERKi","b":"Combo","y":1.14,"y2":1.14},{"a":"ERKi","b":"ERKi","y":1.05,"y2":1.14},{"a":"Combo","b":"Combo","y":1.05,"y2":1.14}]
},
"vconcat": [
 {"hconcat": [
   {"width":1,"height":161,"title":{"text":"X","color":"transparent","fontSize":10,"offset":12,"anchor":"start","frame":"group","dx":255},"mark":{"type":"point","size":0,"opacity":0}},
   {"width":48,"height":1,"title":{"text":"a","anchor":"start","frame":"group","fontSize":13,"fontWeight":"bold","offset":12.5,"dx":1},"mark":{"type":"point","size":0,"opacity":0}},
   {"width":188,"height":125,"title":{"text":"HPAF-II","frame":"group","offset":7},
    "encoding":{"x":{"field":"x","type":"quantitative","scale":{"domain":[0,5],"nice":false},"axis":{"values":[0,1,2,3,4,5],"labelOverlap":false,"title":"log[SCH773984] (nM)","titlePadding":1,"labelFontSize":10}}},
    "layer":[
     {"data":{"name":"a1f"},"mark":{"type":"line","strokeWidth":2,"interpolate":"monotone"},"encoding":{"y":{"field":"y","type":"quantitative","scale":{"domain":[0,150],"nice":false},"axis":{"values":[0,50,100,150],"labelOverlap":false,"title":"Growth (%)","titlePadding":10,"labelFontSize":10}},"color":{"field":"s","type":"nominal","scale":{"domain":["SCH","SCH + CQ"],"range":["#e8312a","#000000"]}}}},
     {"data":{"name":"a1p"},"transform":[{"filter":"datum.lo != null"}],"mark":{"type":"rule","strokeWidth":1.2},"encoding":{"y":{"field":"lo","type":"quantitative","title":"Growth (%)"},"y2":{"field":"hi"},"color":{"field":"s","type":"nominal"}}},
     {"data":{"name":"a1p"},"transform":[{"filter":"datum.lo != null"},{"fold":["lo","hi"],"as":["ek","ev"]}],"mark":{"type":"tick","orient":"horizontal","size":6,"thickness":1.2},"encoding":{"y":{"field":"ev","type":"quantitative","title":"Growth (%)"},"color":{"field":"s","type":"nominal"}}},
     {"data":{"name":"a1p"},"transform":[{"filter":"datum.s === 'SCH'"}],"mark":{"type":"point","shape":"circle","filled":true,"size":30,"opacity":1,"color":"#e8312a"},"encoding":{"y":{"field":"y","type":"quantitative","title":"Growth (%)"}}},
     {"data":{"name":"a1p"},"transform":[{"filter":"datum.s === 'SCH + CQ'"}],"mark":{"type":"point","shape":"triangle-up","filled":true,"size":30,"opacity":1,"color":"#000000"},"encoding":{"y":{"field":"y","type":"quantitative","title":"Growth (%)"}}},
     {"data":{"name":"a1p"},"mark":{"type":"point","filled":true,"size":0},"encoding":{"y":{"field":"y","type":"quantitative","title":"Growth (%)"},"shape":{"field":"s","type":"nominal","scale":{"domain":["SCH","SCH + CQ"],"range":["M-1,0H1M0.42,0A0.42,0.42,0,1,1,-0.42,0A0.42,0.42,0,1,1,0.42,0Z","M-1,0H1M0,-0.5L0.5,0.38L-0.5,0.38Z"]},"legend":null},"color":{"field":"s","type":"nominal","legend":{"title":null,"orient":"none","legendX":92,"legendY":6,"strokeColor":"#999","fillColor":"#fff","padding":4,"rowPadding":1,"symbolSize":196,"symbolStrokeWidth":2,"labelFontSize":11,"labelOffset":5}}}}
    ]},
   {"width":59,"height":1,"mark":{"type":"point","size":0,"opacity":0}},
   {"width":189,"height":125,"title":{"text":"PANC-1","frame":"group","offset":7},
    "encoding":{"x":{"field":"x","type":"quantitative","scale":{"domain":[0,5],"nice":false},"axis":{"values":[0,1,2,3,4,5],"labelOverlap":false,"title":"log[SCH773984] (nM)","titlePadding":1,"labelFontSize":10}}},
    "layer":[
     {"data":{"name":"a2f"},"mark":{"type":"line","strokeWidth":2,"interpolate":"monotone"},"encoding":{"y":{"field":"y","type":"quantitative","scale":{"domain":[0,150],"nice":false},"axis":{"values":[0,50,100,150],"labelOverlap":false,"title":"Growth (%)","titlePadding":10,"labelFontSize":10}},"color":{"field":"s","type":"nominal","scale":{"domain":["SCH","SCH + CQ"],"range":["#e8312a","#000000"]}}}},
     {"data":{"name":"a2p"},"transform":[{"filter":"datum.lo != null"}],"mark":{"type":"rule","strokeWidth":1.2},"encoding":{"y":{"field":"lo","type":"quantitative","title":"Growth (%)"},"y2":{"field":"hi"},"color":{"field":"s","type":"nominal"}}},
     {"data":{"name":"a2p"},"transform":[{"filter":"datum.lo != null"},{"fold":["lo","hi"],"as":["ek","ev"]}],"mark":{"type":"tick","orient":"horizontal","size":6,"thickness":1.2},"encoding":{"y":{"field":"ev","type":"quantitative","title":"Growth (%)"},"color":{"field":"s","type":"nominal"}}},
     {"data":{"name":"a2p"},"transform":[{"filter":"datum.s === 'SCH'"}],"mark":{"type":"point","shape":"circle","filled":true,"size":30,"opacity":1,"color":"#e8312a"},"encoding":{"y":{"field":"y","type":"quantitative","title":"Growth (%)"}}},
     {"data":{"name":"a2p"},"transform":[{"filter":"datum.s === 'SCH + CQ'"}],"mark":{"type":"point","shape":"triangle-up","filled":true,"size":30,"opacity":1,"color":"#000000"},"encoding":{"y":{"field":"y","type":"quantitative","title":"Growth (%)"}}},
     {"data":{"name":"a2p"},"mark":{"type":"point","filled":true,"size":0},"encoding":{"y":{"field":"y","type":"quantitative","title":"Growth (%)"},"shape":{"field":"s","type":"nominal","scale":{"domain":["SCH","SCH + CQ"],"range":["M-1,0H1M0.42,0A0.42,0.42,0,1,1,-0.42,0A0.42,0.42,0,1,1,0.42,0Z","M-1,0H1M0,-0.5L0.5,0.38L-0.5,0.38Z"]},"legend":null},"color":{"field":"s","type":"nominal","legend":{"title":null,"orient":"none","legendX":91,"legendY":-2,"strokeColor":"#999","fillColor":"#fff","padding":4,"rowPadding":1,"symbolSize":196,"symbolStrokeWidth":2,"labelFontSize":11,"labelOffset":5}}}}
    ]},
   {"width":61,"height":1,"mark":{"type":"point","size":0,"opacity":0}},
   {"width":189,"height":125,"title":{"text":"Pa14C","frame":"group","offset":7},
    "encoding":{"x":{"field":"x","type":"quantitative","scale":{"domain":[0,5],"nice":false},"axis":{"values":[0,1,2,3,4,5],"labelOverlap":false,"title":"log[SCH773984] (nM)","titlePadding":1,"labelFontSize":10}}},
    "layer":[
     {"data":{"name":"a3f"},"mark":{"type":"line","strokeWidth":2,"interpolate":"monotone"},"encoding":{"y":{"field":"y","type":"quantitative","scale":{"domain":[0,150],"nice":false},"axis":{"values":[0,50,100,150],"labelOverlap":false,"title":"Growth (%)","titlePadding":10,"labelFontSize":10}},"color":{"field":"s","type":"nominal","scale":{"domain":["SCH","SCH + CQ"],"range":["#e8312a","#000000"]}}}},
     {"data":{"name":"a3p"},"transform":[{"filter":"datum.lo != null"}],"mark":{"type":"rule","strokeWidth":1.2},"encoding":{"y":{"field":"lo","type":"quantitative","title":"Growth (%)"},"y2":{"field":"hi"},"color":{"field":"s","type":"nominal"}}},
     {"data":{"name":"a3p"},"transform":[{"filter":"datum.lo != null"},{"fold":["lo","hi"],"as":["ek","ev"]}],"mark":{"type":"tick","orient":"horizontal","size":6,"thickness":1.2},"encoding":{"y":{"field":"ev","type":"quantitative","title":"Growth (%)"},"color":{"field":"s","type":"nominal"}}},
     {"data":{"name":"a3p"},"transform":[{"filter":"datum.s === 'SCH'"}],"mark":{"type":"point","shape":"circle","filled":true,"size":30,"opacity":1,"color":"#e8312a"},"encoding":{"y":{"field":"y","type":"quantitative","title":"Growth (%)"}}},
     {"data":{"name":"a3p"},"transform":[{"filter":"datum.s === 'SCH + CQ'"}],"mark":{"type":"point","shape":"triangle-up","filled":true,"size":30,"opacity":1,"color":"#000000"},"encoding":{"y":{"field":"y","type":"quantitative","title":"Growth (%)"}}},
     {"data":{"name":"a3p"},"mark":{"type":"point","filled":true,"size":0},"encoding":{"y":{"field":"y","type":"quantitative","title":"Growth (%)"},"shape":{"field":"s","type":"nominal","scale":{"domain":["SCH","SCH + CQ"],"range":["M-1,0H1M0.42,0A0.42,0.42,0,1,1,-0.42,0A0.42,0.42,0,1,1,0.42,0Z","M-1,0H1M0,-0.5L0.5,0.38L-0.5,0.38Z"]},"legend":null},"color":{"field":"s","type":"nominal","legend":{"title":null,"orient":"none","legendX":101,"legendY":6,"strokeColor":"#999","fillColor":"#fff","padding":4,"rowPadding":1,"symbolSize":196,"symbolStrokeWidth":2,"labelFontSize":11,"labelOffset":5}}}}
    ]}
  ], "spacing": 0, "bounds": "flush", "resolve": {"scale": {"color": "independent", "shape": "independent", "xOffset": "independent"}}},

 {"hconcat": [
   {"width":1,"height":233,"title":{"text":"X","color":"transparent","fontSize":10,"offset":5,"anchor":"start","frame":"group","dx":200},"mark":{"type":"point","size":0,"opacity":0}},
   {"width":58,"height":1,"title":{"text":"b","anchor":"start","frame":"group","fontSize":13,"fontWeight":"bold","offset":-1.5,"dx":1},"mark":{"type":"point","size":0,"opacity":0}},
   {"width":321,"height":195,
    "layer":[
     {"data":{"name":"bb"},"mark":{"type":"bar","filled":false,"strokeWidth":1.3},"encoding":{
       "x":{"field":"g","type":"nominal","sort":["PANC-1","HPAC","Pa01C","Pa02C","Pa14C","HPAF-II"],"scale":{"paddingInner":0,"paddingOuter":0},"axis":{"title":null,"ticks":false,"labelAngle":0,"labelPadding":4,"offset":5,"domainColor":"#222","domainWidth":1.3,"domainDash":[50.5,3],"domainDashOffset":-1.5}},
       "xOffset":{"field":"t","type":"nominal","sort":["DMSO","CQ","SCH","SCH + CQ","BVD","BVD + CQ"],"scale":{"paddingInner":0.3,"paddingOuter":0.15}},
       "y":{"field":"m","type":"quantitative","scale":{"domain":[0,167.74],"nice":false},"axis":{"values":[0,20,40,60,80,100,120,140,160],"labelOverlap":false,"domain":false,"title":"Normalized colony number","titlePadding":14}},
       "color":{"field":"t","type":"nominal","scale":{"domain":["DMSO","SCH + CQ","CQ","BVD","SCH","BVD + CQ"],"range":["#2442f0","#ff9a1f","#f0302a","#6dcbf5","#1a8a4a","#9a3cf0"]}}}},
     {"data":{"name":"bb"},"transform":[{"filter":"datum.lo != null"}],"mark":{"type":"rule","strokeWidth":1.2},"encoding":{"x":{"field":"g","type":"nominal","sort":["PANC-1","HPAC","Pa01C","Pa02C","Pa14C","HPAF-II"],"title":null},"xOffset":{"field":"t","type":"nominal","sort":["DMSO","CQ","SCH","SCH + CQ","BVD","BVD + CQ"]},"y":{"field":"lo","type":"quantitative","axis":{"values":[0,20,40,60,80,100,120,140,160],"labelOverlap":false,"domain":false,"title":"Normalized colony number","titlePadding":14}},"y2":{"field":"hi"},"color":{"field":"t","type":"nominal"}}},
     {"data":{"name":"bb"},"transform":[{"filter":"datum.lo != null"},{"fold":["lo","hi"],"as":["ek","ev"]}],"mark":{"type":"tick","orient":"horizontal","size":6,"thickness":1.2},"encoding":{"x":{"field":"g","type":"nominal","sort":["PANC-1","HPAC","Pa01C","Pa02C","Pa14C","HPAF-II"],"title":null},"xOffset":{"field":"t","type":"nominal","sort":["DMSO","CQ","SCH","SCH + CQ","BVD","BVD + CQ"]},"y":{"field":"ev","type":"quantitative","axis":{"values":[0,20,40,60,80,100,120,140,160],"labelOverlap":false,"domain":false,"title":"Normalized colony number","titlePadding":14}},"color":{"field":"t","type":"nominal"}}},
     {"data":{"name":"bp"},"mark":{"type":"point","filled":true,"size":16,"opacity":1},"encoding":{"x":{"field":"g","type":"nominal","sort":["PANC-1","HPAC","Pa01C","Pa02C","Pa14C","HPAF-II"],"title":null},"xOffset":{"field":"t","type":"nominal","sort":["DMSO","CQ","SCH","SCH + CQ","BVD","BVD + CQ"]},"y":{"field":"v","type":"quantitative","axis":{"values":[0,20,40,60,80,100,120,140,160],"labelOverlap":false,"domain":false,"title":"Normalized colony number","titlePadding":14}},
       "color":{"field":"t","type":"nominal","legend":{"title":null,"orient":"none","legendX":21,"legendY":9,"columns":3,"columnPadding":11,"gridAlign":"each","rowPadding":7,"padding":3,"symbolType":"square","symbolSize":100,"labelFontSize":11,"labelOffset":5,"strokeColor":"#999","fillColor":"#fff"}}}},
     {"mark":{"type":"rule","color":"#8c8c8c","strokeWidth":1},"encoding":{"x":{"datum":"PANC-1","type":"nominal","bandPosition":0,"title":null},"y":{"datum":0,"type":"quantitative","axis":{"values":[0,20,40,60,80,100,120,140,160],"labelOverlap":false,"domain":false,"title":"Normalized colony number","titlePadding":14}},"y2":{"datum":160}}}
    ]},
   {"width":71,"height":1,"title":{"text":"c","anchor":"start","frame":"group","fontSize":13,"fontWeight":"bold","offset":4.5,"dx":21},"mark":{"type":"point","size":0,"opacity":0}},
   {"width":291,"height":192,"resolve":{"axis":{"x":"independent"}},
    "layer":[
     {"data":{"name":"cb"},"mark":{"type":"bar","filled":false,"strokeWidth":1.3},"encoding":{
       "x":{"field":"g","type":"nominal","sort":["0.0781","0.156","0.3125","0.625","1.25","2.5"],"scale":{"paddingInner":0,"paddingOuter":0},"axis":{"orient":"bottom","title":null,"ticks":false,"labelAngle":0,"labelPadding":5,"offset":0,"domainColor":"#222","domainWidth":1.3,"domainDash":[45.5,3],"domainDashOffset":-1.5}},
       "xOffset":{"field":"t","type":"nominal","sort":["HPAC","PANC-1","HPAF-II","Pa01C","Pa04C","Pa14C"],"scale":{"paddingInner":0.3,"paddingOuter":0.15}},
       "y":{"field":"m","type":"quantitative","scale":{"domain":[0,2.5],"nice":false},"axis":{"values":[0,0.5,1,1.5,2,2.5],"labelOverlap":false,"format":".1f","title":"CI value","titlePadding":16}},
       "color":{"field":"t","type":"nominal","scale":{"domain":["HPAC","Pa01C","PANC-1","Pa04C","HPAF-II","Pa14C"],"range":["#2442f0","#ff9a1f","#f0302a","#6dcbf5","#1a8a4a","#9a3cf0"]}}}},
     {"data":{"name":"cb"},"mark":{"type":"rule","strokeWidth":1.2},"encoding":{"x":{"field":"g","type":"nominal","sort":["0.0781","0.156","0.3125","0.625","1.25","2.5"],"axis":null},"xOffset":{"field":"t","type":"nominal","sort":["HPAC","PANC-1","HPAF-II","Pa01C","Pa04C","Pa14C"]},"y":{"field":"lo","type":"quantitative","axis":{"values":[0,0.5,1,1.5,2,2.5],"labelOverlap":false,"format":".1f","title":"CI value","titlePadding":16}},"y2":{"field":"hi"},"color":{"field":"t","type":"nominal"}}},
     {"data":{"name":"cb"},"transform":[{"fold":["lo","hi"],"as":["ek","ev"]}],"mark":{"type":"tick","orient":"horizontal","size":5,"thickness":1.2},"encoding":{"x":{"field":"g","type":"nominal","sort":["0.0781","0.156","0.3125","0.625","1.25","2.5"],"axis":null},"xOffset":{"field":"t","type":"nominal","sort":["HPAC","PANC-1","HPAF-II","Pa01C","Pa04C","Pa14C"]},"y":{"field":"ev","type":"quantitative","axis":{"values":[0,0.5,1,1.5,2,2.5],"labelOverlap":false,"format":".1f","title":"CI value","titlePadding":16}},"color":{"field":"t","type":"nominal"}}},
     {"data":{"name":"cp"},"mark":{"type":"point","filled":true,"size":16,"opacity":1},"encoding":{"x":{"field":"g","type":"nominal","sort":["0.0781","0.156","0.3125","0.625","1.25","2.5"],"axis":null},"xOffset":{"field":"t","type":"nominal","sort":["HPAC","PANC-1","HPAF-II","Pa01C","Pa04C","Pa14C"]},"y":{"field":"v","type":"quantitative","axis":{"values":[0,0.5,1,1.5,2,2.5],"labelOverlap":false,"format":".1f","title":"CI value","titlePadding":16}},
       "color":{"field":"t","type":"nominal","legend":{"title":null,"orient":"none","legendX":67,"legendY":-2,"columns":3,"columnPadding":17,"gridAlign":"each","rowPadding":7,"padding":3,"symbolType":"square","symbolSize":100,"labelFontSize":11,"labelOffset":5,"strokeColor":"#999","fillColor":"#fff"}}}},
     {"data":{"values":[{"v":1}]},"mark":{"type":"rule","color":"#e8312a","strokeWidth":1.2},"encoding":{"y":{"field":"v","type":"quantitative","axis":{"values":[0,0.5,1,1.5,2,2.5],"labelOverlap":false,"format":".1f","title":"CI value","titlePadding":16}}}},
     {"data":{"name":"cb"},"mark":{"type":"text","text":""},"encoding":{"x":{"field":"g","type":"nominal","sort":["0.0781","0.156","0.3125","0.625","1.25","2.5"],"axis":{"orient":"bottom","offset":21,"labels":false,"ticks":false,"domainColor":"#222","domainWidth":1.2,"title":"ERKi (μM)","titlePadding":3}}}}
    ]}
  ], "spacing": 0, "bounds": "flush", "resolve": {"scale": {"color": "independent", "shape": "independent", "xOffset": "independent"}}},

 {"hconcat": [
   {"width":1,"height":200,"title":{"text":"X","color":"transparent","fontSize":10,"offset":20,"anchor":"start","frame":"group","dx":150},"mark":{"type":"point","size":0,"opacity":0}},
   {"width":48,"height":1,"title":{"text":"d","anchor":"start","frame":"group","fontSize":13,"fontWeight":"bold","offset":16.5,"dx":1},"mark":{"type":"point","size":0,"opacity":0}},
   {"width":67,"height":139,"title":{"text":"BLISS = 0.51","frame":"group","offset":14},"resolve":{"axis":{"x":"independent"}},
    "layer":[
     {"data":{"name":"d1b"},"mark":{"type":"bar","fill":"#ffffff","stroke":"#222","strokeWidth":1},"encoding":{"x":{"field":"c","type":"nominal","sort":["ERKi","CQ","Combo"],"scale":{"paddingInner":0.33,"paddingOuter":0.3},"axis":{"orient":"bottom","title":null,"labelAngle":270,"ticks":false,"labelPadding":4}},"y":{"field":"m","type":"quantitative","scale":{"domain":[0,50],"nice":false},"axis":{"values":[0,10,20,30,40,50],"labelOverlap":false,"title":"Apoptotic cells (%)","titlePadding":12}}}},
     {"data":{"name":"d1b"},"mark":{"type":"rule","color":"#000","strokeWidth":1},"encoding":{"x":{"field":"c","type":"nominal","sort":["ERKi","CQ","Combo"],"axis":null},"y":{"field":"lo","type":"quantitative","axis":{"values":[0,10,20,30,40,50],"labelOverlap":false,"title":"Apoptotic cells (%)","titlePadding":12}},"y2":{"field":"hi"}}},
     {"data":{"name":"d1b"},"transform":[{"fold":["lo","hi"],"as":["ek","ev"]}],"mark":{"type":"tick","orient":"horizontal","size":7,"thickness":1,"color":"#000"},"encoding":{"x":{"field":"c","type":"nominal","sort":["ERKi","CQ","Combo"],"axis":null},"y":{"field":"ev","type":"quantitative","axis":{"values":[0,10,20,30,40,50],"labelOverlap":false,"title":"Apoptotic cells (%)","titlePadding":12}}}},
     {"data":{"name":"d1p"},"mark":{"type":"point","filled":true,"size":16,"color":"#000","opacity":1},"encoding":{"x":{"field":"c","type":"nominal","sort":["ERKi","CQ","Combo"],"axis":null},"y":{"field":"v","type":"quantitative","axis":{"values":[0,10,20,30,40,50],"labelOverlap":false,"title":"Apoptotic cells (%)","titlePadding":12}}}},
     {"data":{"name":"d1b"},"mark":{"type":"text","text":""},"encoding":{"x":{"field":"c","type":"nominal","sort":["ERKi","CQ","Combo"],"axis":{"orient":"bottom","offset":46,"labels":false,"ticks":false,"domainColor":"#000","title":"HPAC","titlePadding":2,"titleFontSize":12}}}}
    ]},
   {"width":52,"height":1,"mark":{"type":"point","size":0,"opacity":0}},
   {"width":70,"height":139,"title":{"text":"BLISS = 0.795","frame":"group","offset":14},"resolve":{"axis":{"x":"independent"}},
    "layer":[
     {"data":{"name":"d2b"},"mark":{"type":"bar","fill":"#ffffff","stroke":"#222","strokeWidth":1},"encoding":{"x":{"field":"c","type":"nominal","sort":["ERKi","CQ","Combo"],"scale":{"paddingInner":0.33,"paddingOuter":0.3},"axis":{"orient":"bottom","title":null,"labelAngle":270,"ticks":false,"labelPadding":4}},"y":{"field":"m","type":"quantitative","scale":{"domain":[0,50],"nice":false},"axis":{"values":[0,10,20,30,40,50],"labelOverlap":false,"title":"Apoptotic cells (%)","titlePadding":12}}}},
     {"data":{"name":"d2b"},"mark":{"type":"rule","color":"#000","strokeWidth":1},"encoding":{"x":{"field":"c","type":"nominal","sort":["ERKi","CQ","Combo"],"axis":null},"y":{"field":"lo","type":"quantitative","axis":{"values":[0,10,20,30,40,50],"labelOverlap":false,"title":"Apoptotic cells (%)","titlePadding":12}},"y2":{"field":"hi"}}},
     {"data":{"name":"d2b"},"transform":[{"fold":["lo","hi"],"as":["ek","ev"]}],"mark":{"type":"tick","orient":"horizontal","size":7,"thickness":1,"color":"#000"},"encoding":{"x":{"field":"c","type":"nominal","sort":["ERKi","CQ","Combo"],"axis":null},"y":{"field":"ev","type":"quantitative","axis":{"values":[0,10,20,30,40,50],"labelOverlap":false,"title":"Apoptotic cells (%)","titlePadding":12}}}},
     {"data":{"name":"d2p"},"mark":{"type":"point","filled":true,"size":16,"color":"#000","opacity":1},"encoding":{"x":{"field":"c","type":"nominal","sort":["ERKi","CQ","Combo"],"axis":null},"y":{"field":"v","type":"quantitative","axis":{"values":[0,10,20,30,40,50],"labelOverlap":false,"title":"Apoptotic cells (%)","titlePadding":12}}}},
     {"data":{"name":"d2b"},"mark":{"type":"text","text":""},"encoding":{"x":{"field":"c","type":"nominal","sort":["ERKi","CQ","Combo"],"axis":{"orient":"bottom","offset":46,"labels":false,"ticks":false,"domainColor":"#000","title":"PANC-1","titlePadding":2,"titleFontSize":11}}}}
    ]},
   {"width":59,"height":1,"title":{"text":"e","anchor":"start","frame":"group","fontSize":13,"fontWeight":"bold","offset":18,"dx":16},"mark":{"type":"point","size":0,"opacity":0}},
   {"width":178,"height":129,"title":{"text":"hM1A* PDAC organoid","frame":"group","offset":1.5},
    "layer":[
     {"data":{"name":"ef"},"mark":{"type":"line","strokeWidth":2,"interpolate":"monotone"},"encoding":{
       "x":{"field":"x","type":"quantitative","scale":{"domain":[0,4],"nice":false},"axis":{"values":[0,1,2,3,4],"labelOverlap":false,"title":"log[ERKi] (nM)","titlePadding":3}},
       "y":{"field":"y","type":"quantitative","scale":{"domain":[0,150],"nice":false},"axis":{"values":[0,50,100,150],"labelOverlap":false,"title":"Growth (%)","titlePadding":5}},
       "color":{"field":"s","type":"nominal","scale":{"domain":["ERKi","ERKi + CQ (1.56 μM)","ERKi + CQ (3.125 μM)","ERKi + CQ (6.25 μM)"],"range":["#000000","#2b40b0","#e8312a","#1e9a3c"]},
         "legend":{"title":null,"orient":"none","legendX":106,"legendY":2,"strokeColor":"#999","fillColor":"#fff","padding":2,"rowPadding":2,"symbolSize":225,"symbolStrokeWidth":1.8,"labelFontSize":11,"labelOffset":5}}}},
     {"data":{"name":"ep"},"transform":[{"filter":"datum.s === 'ERKi'"}],"mark":{"type":"point","shape":"circle","filled":true,"size":30,"opacity":1,"color":"#000000"},"encoding":{"x":{"field":"x","type":"quantitative","title":"log[ERKi] (nM)"},"y":{"field":"y","type":"quantitative","title":"Growth (%)"}}},
     {"data":{"name":"ep"},"transform":[{"filter":"datum.s === 'ERKi + CQ (1.56 μM)'"}],"mark":{"type":"point","shape":"square","filled":true,"size":30,"opacity":1,"color":"#2b40b0"},"encoding":{"x":{"field":"x","type":"quantitative","title":"log[ERKi] (nM)"},"y":{"field":"y","type":"quantitative","title":"Growth (%)"}}},
     {"data":{"name":"ep"},"transform":[{"filter":"datum.s === 'ERKi + CQ (3.125 μM)'"}],"mark":{"type":"point","shape":"triangle-up","filled":true,"size":30,"opacity":1,"color":"#e8312a"},"encoding":{"x":{"field":"x","type":"quantitative","title":"log[ERKi] (nM)"},"y":{"field":"y","type":"quantitative","title":"Growth (%)"}}},
     {"data":{"name":"ep"},"transform":[{"filter":"datum.s === 'ERKi + CQ (6.25 μM)'"}],"mark":{"type":"point","filled":false,"size":30,"strokeWidth":1.4,"color":"#1e9a3c","opacity":1},"encoding":{"x":{"field":"x","type":"quantitative","title":"log[ERKi] (nM)"},"y":{"field":"y","type":"quantitative","title":"Growth (%)"}}},
     {"data":{"name":"ep"},"mark":{"type":"point","filled":true,"size":0},"encoding":{"x":{"field":"x","type":"quantitative","title":"log[ERKi] (nM)"},"y":{"field":"y","type":"quantitative","title":"Growth (%)"},"shape":{"field":"s","type":"nominal","scale":{"domain":["ERKi","ERKi + CQ (1.56 μM)","ERKi + CQ (3.125 μM)","ERKi + CQ (6.25 μM)"],"range":["M-1,0H1M0.4,0A0.4,0.4,0,1,1,-0.4,0A0.4,0.4,0,1,1,0.4,0Z","M-1,0H1M-0.36,-0.36H0.36V0.36H-0.36Z","M-1,0H1M0,-0.48L0.48,0.36L-0.48,0.36Z","M-1,0H1M0.4,0A0.4,0.4,0,1,1,-0.4,0A0.4,0.4,0,1,1,0.4,0Z"]},"legend":null},"color":{"field":"s","type":"nominal"}}},
     {"data":{"values":[{"x":2.95,"y":39,"t":"*KRAS G12D"}]},"mark":{"type":"text","align":"left","baseline":"middle","fontSize":11},"encoding":{"x":{"field":"x","type":"quantitative","title":"log[ERKi] (nM)"},"y":{"field":"y","type":"quantitative","title":"Growth (%)"},"text":{"field":"t"}}}
    ]},
   {"width":123,"height":1,"title":{"text":"f","anchor":"start","frame":"group","fontSize":13,"fontWeight":"bold","offset":15.5,"dx":68},"mark":{"type":"point","size":0,"opacity":0}},
   {"vconcat": [
     {"width":1,"height":33,"mark":{"type":"point","size":0,"opacity":0}},
     {"width":117,"height":157,"title":{"text":"hM1A","frame":"group","offset":4.5},"view":{"stroke":"#555","strokeWidth":1},"resolve":{"axis":{"x":"independent","y":"independent"}},
      "layer":[
       {"data":{"name":"fh"},"mark":{"type":"rect"},"encoding":{
         "x":{"field":"c","type":"nominal","sort":["1.56","3.13","6.25"],"scale":{"paddingInner":0,"paddingOuter":0},"axis":{"orient":"top","title":null,"domain":false,"ticks":false,"labelPadding":3,"labelAngle":0}},
         "y":{"field":"r","type":"nominal","sort":["0.078","0.156","0.313","0.625","1.25","2.5"],"scale":{"paddingInner":0,"paddingOuter":0},"axis":{"title":null,"domain":false,"ticks":false,"labelPadding":6}},
         "color":{"field":"v","type":"quantitative","scale":{"domain":[-1,0,1],"range":["#e5262a","#ffffff","#2e3f9f"],"interpolate":"rgb"},"legend":{"title":null,"orient":"none","legendX":125,"legendY":0,"direction":"vertical","gradientLength":151,"gradientThickness":10,"values":[1,0.5,0,-0.5,-1],"format":"~g","labelFontSize":11,"labelOffset":4,"labelOverlap":false,"gradientStrokeWidth":0}}}},
       {"data":{"name":"fh"},"mark":{"type":"text","text":""},"encoding":{
         "x":{"field":"c","type":"nominal","sort":["1.56","3.13","6.25"],"axis":{"orient":"top","offset":15,"labels":false,"ticks":false,"domainColor":"#444","domainWidth":1.5,"title":"Chloroquine (μM)","titlePadding":3}},
         "y":{"field":"r","type":"nominal","sort":["0.078","0.156","0.313","0.625","1.25","2.5"],"axis":{"orient":"left","offset":40,"labels":false,"ticks":false,"domainColor":"#444","domainWidth":1.5,"title":"ERKi (μM)","titlePadding":4}}}}
      ]}
    ], "spacing": 0, "bounds": "flush"}
  ], "spacing": 0, "bounds": "flush", "resolve": {"scale": {"color": "independent", "shape": "independent", "xOffset": "independent"}}},

 {"hconcat": [
   {"width":1,"height":1,"title":{"text":"X","color":"transparent","fontSize":10,"offset":16,"anchor":"start","frame":"group","dx":140},"mark":{"type":"point","size":0,"opacity":0}},
   {"width":48,"height":1,"mark":{"type":"point","size":0,"opacity":0}},
   {"width":67,"height":139,"title":{"text":"BLISS = 0.58","frame":"group","offset":6},"resolve":{"axis":{"x":"independent"}},
    "layer":[
     {"data":{"name":"d3b"},"mark":{"type":"bar","fill":"#ffffff","stroke":"#222","strokeWidth":1},"encoding":{"x":{"field":"c","type":"nominal","sort":["ERKi","CQ","Combo"],"scale":{"paddingInner":0.33,"paddingOuter":0.3},"axis":{"orient":"bottom","title":null,"labelAngle":270,"ticks":false,"labelPadding":4}},"y":{"field":"m","type":"quantitative","scale":{"domain":[0,50],"nice":false},"axis":{"values":[0,10,20,30,40,50],"labelOverlap":false,"title":"Apoptotic cells (%)","titlePadding":12}}}},
     {"data":{"name":"d3b"},"mark":{"type":"rule","color":"#000","strokeWidth":1},"encoding":{"x":{"field":"c","type":"nominal","sort":["ERKi","CQ","Combo"],"axis":null},"y":{"field":"lo","type":"quantitative","axis":{"values":[0,10,20,30,40,50],"labelOverlap":false,"title":"Apoptotic cells (%)","titlePadding":12}},"y2":{"field":"hi"}}},
     {"data":{"name":"d3b"},"transform":[{"fold":["lo","hi"],"as":["ek","ev"]}],"mark":{"type":"tick","orient":"horizontal","size":7,"thickness":1,"color":"#000"},"encoding":{"x":{"field":"c","type":"nominal","sort":["ERKi","CQ","Combo"],"axis":null},"y":{"field":"ev","type":"quantitative","axis":{"values":[0,10,20,30,40,50],"labelOverlap":false,"title":"Apoptotic cells (%)","titlePadding":12}}}},
     {"data":{"name":"d3p"},"mark":{"type":"point","filled":true,"size":16,"color":"#000","opacity":1},"encoding":{"x":{"field":"c","type":"nominal","sort":["ERKi","CQ","Combo"],"axis":null},"y":{"field":"v","type":"quantitative","axis":{"values":[0,10,20,30,40,50],"labelOverlap":false,"title":"Apoptotic cells (%)","titlePadding":12}}}},
     {"data":{"name":"d3b"},"mark":{"type":"text","text":""},"encoding":{"x":{"field":"c","type":"nominal","sort":["ERKi","CQ","Combo"],"axis":{"orient":"bottom","offset":45,"labels":false,"ticks":false,"domainColor":"#000","title":"Pa01C","titlePadding":2,"titleFontSize":13}}}}
    ]},
   {"width":52,"height":1,"mark":{"type":"point","size":0,"opacity":0}},
   {"width":70,"height":138,"title":{"text":"BLISS = 0.58","frame":"group","offset":6},"resolve":{"axis":{"x":"independent"}},
    "layer":[
     {"data":{"name":"d4b"},"mark":{"type":"bar","fill":"#ffffff","stroke":"#222","strokeWidth":1},"encoding":{"x":{"field":"c","type":"nominal","sort":["ERKi","CQ","Combo"],"scale":{"paddingInner":0.33,"paddingOuter":0.3},"axis":{"orient":"bottom","title":null,"labelAngle":270,"ticks":false,"labelPadding":4}},"y":{"field":"m","type":"quantitative","scale":{"domain":[0,60],"nice":false},"axis":{"values":[0,10,20,30,40,50,60],"labelOverlap":false,"title":"Apoptotic cells (%)","titlePadding":12}}}},
     {"data":{"name":"d4b"},"mark":{"type":"rule","color":"#000","strokeWidth":1},"encoding":{"x":{"field":"c","type":"nominal","sort":["ERKi","CQ","Combo"],"axis":null},"y":{"field":"lo","type":"quantitative","axis":{"values":[0,10,20,30,40,50,60],"labelOverlap":false,"title":"Apoptotic cells (%)","titlePadding":12}},"y2":{"field":"hi"}}},
     {"data":{"name":"d4b"},"transform":[{"fold":["lo","hi"],"as":["ek","ev"]}],"mark":{"type":"tick","orient":"horizontal","size":7,"thickness":1,"color":"#000"},"encoding":{"x":{"field":"c","type":"nominal","sort":["ERKi","CQ","Combo"],"axis":null},"y":{"field":"ev","type":"quantitative","axis":{"values":[0,10,20,30,40,50,60],"labelOverlap":false,"title":"Apoptotic cells (%)","titlePadding":12}}}},
     {"data":{"name":"d4p"},"mark":{"type":"point","filled":true,"size":16,"color":"#000","opacity":1},"encoding":{"x":{"field":"c","type":"nominal","sort":["ERKi","CQ","Combo"],"axis":null},"y":{"field":"v","type":"quantitative","axis":{"values":[0,10,20,30,40,50,60],"labelOverlap":false,"title":"Apoptotic cells (%)","titlePadding":12}}}},
     {"data":{"name":"d4b"},"mark":{"type":"text","text":""},"encoding":{"x":{"field":"c","type":"nominal","sort":["ERKi","CQ","Combo"],"axis":{"orient":"bottom","offset":45,"labels":false,"ticks":false,"domainColor":"#000","title":"Pa14C","titlePadding":2,"titleFontSize":11}}}}
    ]},
   {"width":70,"height":1,"title":{"text":"g","anchor":"start","frame":"group","fontSize":13,"fontWeight":"bold","offset":14.5,"dx":8},"mark":{"type":"point","size":0,"opacity":0}},
   {"vconcat": [
     {"width":1,"height":10,"mark":{"type":"point","size":0,"opacity":0}},
     {"hconcat": [
       {"width":169,"height":156,"title":{"text":"1013 PDX*","frame":"group","offset":1.5},
        "layer":[
         {"data":{"name":"gd"},"mark":{"type":"rule","strokeWidth":1},"encoding":{
           "x":{"field":"d","type":"quantitative","scale":{"domain":[-0.8,22.7],"nice":false,"zero":false},"axis":{"values":[0,2,4,6,8,10,12,14,16,18,20,22],"labelOverlap":false,"title":"Days","titlePadding":5,"labelFontSize":10.5}},
           "y":{"field":"lo","type":"quantitative","scale":{"domain":[0,800],"nice":false},"axis":{"values":[0,200,400,600,800],"labelOverlap":false,"title":"Tumor volume (mm³)","titlePadding":8}},
           "y2":{"field":"hi"},
           "color":{"field":"s","type":"nominal","scale":{"domain":["Control","ERKi","HCQ","ERKi + HCQ"],"range":["#000000","#2b40b0","#1e9a3c","#e8312a"]}}}},
         {"data":{"name":"gd"},"transform":[{"fold":["lo","hi"],"as":["ek","ev"]}],"mark":{"type":"tick","orient":"horizontal","size":6,"thickness":1},"encoding":{"x":{"field":"d","type":"quantitative","axis":{"values":[0,2,4,6,8,10,12,14,16,18,20,22],"labelOverlap":false,"title":"Days","titlePadding":5,"labelFontSize":10.5}},"y":{"field":"ev","type":"quantitative","axis":{"values":[0,200,400,600,800],"labelOverlap":false,"title":"Tumor volume (mm³)","titlePadding":8}},"color":{"field":"s","type":"nominal"}}},
         {"data":{"name":"gd"},"mark":{"type":"line","strokeWidth":2},"encoding":{"x":{"field":"d","type":"quantitative","axis":{"values":[0,2,4,6,8,10,12,14,16,18,20,22],"labelOverlap":false,"title":"Days","titlePadding":5,"labelFontSize":10.5}},"y":{"field":"v","type":"quantitative","axis":{"values":[0,200,400,600,800],"labelOverlap":false,"title":"Tumor volume (mm³)","titlePadding":8}},
           "color":{"field":"s","type":"nominal","legend":{"title":null,"orient":"none","legendX":1,"legendY":3,"strokeColor":"#999","fillColor":"#fff","padding":2,"rowPadding":1,"symbolSize":196,"symbolStrokeWidth":2,"labelFontSize":11,"labelOffset":4}}}},
         {"data":{"name":"gd"},"mark":{"type":"point","filled":true,"size":28,"opacity":1},"encoding":{"x":{"field":"d","type":"quantitative","axis":{"values":[0,2,4,6,8,10,12,14,16,18,20,22],"labelOverlap":false,"title":"Days","titlePadding":5,"labelFontSize":10.5}},"y":{"field":"v","type":"quantitative","axis":{"values":[0,200,400,600,800],"labelOverlap":false,"title":"Tumor volume (mm³)","titlePadding":8}},"color":{"field":"s","type":"nominal"}}},
         {"data":{"name":"gd"},"mark":{"type":"point","filled":true,"size":0},"encoding":{"x":{"field":"d","type":"quantitative","axis":{"values":[0,2,4,6,8,10,12,14,16,18,20,22],"labelOverlap":false,"title":"Days","titlePadding":5,"labelFontSize":10.5}},"y":{"field":"v","type":"quantitative","axis":{"values":[0,200,400,600,800],"labelOverlap":false,"title":"Tumor volume (mm³)","titlePadding":8}},"shape":{"field":"s","type":"nominal","scale":{"domain":["Control","ERKi","HCQ","ERKi + HCQ"],"range":["M-1,0H1M0.43,0A0.43,0.43,0,1,1,-0.43,0A0.43,0.43,0,1,1,0.43,0Z","M-1,0H1M0.43,0A0.43,0.43,0,1,1,-0.43,0A0.43,0.43,0,1,1,0.43,0Z","M-1,0H1M0.43,0A0.43,0.43,0,1,1,-0.43,0A0.43,0.43,0,1,1,0.43,0Z","M-1,0H1M0.43,0A0.43,0.43,0,1,1,-0.43,0A0.43,0.43,0,1,1,0.43,0Z"]},"legend":null},"color":{"field":"s","type":"nominal"}}},
         {"data":{"values":[{"x":11.7,"y":750,"t":"*KRAS G12D"}]},"mark":{"type":"text","align":"left","baseline":"middle","fontSize":11},"encoding":{"x":{"field":"x","type":"quantitative","axis":{"values":[0,2,4,6,8,10,12,14,16,18,20,22],"labelOverlap":false,"title":"Days","titlePadding":5,"labelFontSize":10.5}},"y":{"field":"y","type":"quantitative","axis":{"values":[0,200,400,600,800],"labelOverlap":false,"title":"Tumor volume (mm³)","titlePadding":8}},"text":{"field":"t"}}}
        ]},
       {"width":103,"height":1,"title":{"text":"h","anchor":"start","frame":"group","fontSize":13,"fontWeight":"bold","offset":10.5,"dx":54},"mark":{"type":"point","size":0,"opacity":0}},
       {"width":166,"height":150,"title":{"text":"1013 PDX","frame":"group","offset":-3.5},
        "layer":[
         {"data":{"name":"hb"},"mark":{"type":"bar","filled":false,"strokeWidth":3},"encoding":{
           "x":{"field":"c","type":"nominal","sort":["DMSO","HCQ","ERKi","Combo"],"scale":{"domain":["DMSO","HCQ","ERKi","Combo"],"paddingInner":0.34,"paddingOuter":0.365,"align":0.69},"axis":{"title":null,"labelAngle":270,"ticks":false,"labelPadding":4}},
           "y":{"field":"m","type":"quantitative","scale":{"domain":[0,3],"nice":false},"axis":{"values":[0,0.5,1,1.5,2,2.5,3],"labelOverlap":false,"format":".1f","title":"Tumor weight (g)","titlePadding":9}},
           "color":{"field":"c","type":"nominal","scale":{"domain":["DMSO","HCQ","ERKi","Combo"],"range":["#000000","#1e9a3c","#2b40b0","#e8312a"]},"legend":null}}},
         {"data":{"name":"hb"},"mark":{"type":"rule","strokeWidth":1.2},"encoding":{"x":{"field":"c","type":"nominal","sort":["DMSO","HCQ","ERKi","Combo"],"title":null},"y":{"field":"lo","type":"quantitative","axis":{"values":[0,0.5,1,1.5,2,2.5,3],"labelOverlap":false,"format":".1f","title":"Tumor weight (g)","titlePadding":9}},"y2":{"field":"hi"},"color":{"field":"c","type":"nominal","legend":null}}},
         {"data":{"name":"hb"},"transform":[{"fold":["lo","hi"],"as":["ek","ev"]}],"mark":{"type":"tick","orient":"horizontal","size":12,"thickness":1.2},"encoding":{"x":{"field":"c","type":"nominal","sort":["DMSO","HCQ","ERKi","Combo"],"title":null},"y":{"field":"ev","type":"quantitative","axis":{"values":[0,0.5,1,1.5,2,2.5,3],"labelOverlap":false,"format":".1f","title":"Tumor weight (g)","titlePadding":9}},"color":{"field":"c","type":"nominal","legend":null}}},
         {"data":{"name":"hp"},"mark":{"type":"point","filled":true,"size":18,"opacity":1},"encoding":{"x":{"field":"c","type":"nominal","sort":["DMSO","HCQ","ERKi","Combo"],"title":null},"y":{"field":"v","type":"quantitative","axis":{"values":[0,0.5,1,1.5,2,2.5,3],"labelOverlap":false,"format":".1f","title":"Tumor weight (g)","titlePadding":9}},"color":{"field":"c","type":"nominal","legend":null}}},
         {"data":{"name":"hbr"},"mark":{"type":"rule","color":"#000","strokeWidth":1},"encoding":{"x":{"field":"a","type":"nominal","sort":["DMSO","HCQ","ERKi","Combo"],"title":null},"x2":{"field":"b"},"y":{"field":"y","type":"quantitative","axis":{"values":[0,0.5,1,1.5,2,2.5,3],"labelOverlap":false,"format":".1f","title":"Tumor weight (g)","titlePadding":9}},"y2":{"field":"y2"}}},
         {"data":{"values":[{"a":"ERKi","y":1.42,"t":"P"}]},"mark":{"type":"text","align":"left","baseline":"middle","fontStyle":"italic","dx":-26.7,"fontSize":11},"encoding":{"x":{"field":"a","type":"nominal","sort":["DMSO","HCQ","ERKi","Combo"],"bandPosition":1.256,"title":null},"y":{"field":"y","type":"quantitative","axis":{"values":[0,0.5,1,1.5,2,2.5,3],"labelOverlap":false,"format":".1f","title":"Tumor weight (g)","titlePadding":9}},"text":{"field":"t"}}},
         {"data":{"values":[{"a":"ERKi","y":1.42,"t":"= 0.0001"}]},"mark":{"type":"text","align":"left","baseline":"middle","dx":-16.3,"fontSize":11},"encoding":{"x":{"field":"a","type":"nominal","sort":["DMSO","HCQ","ERKi","Combo"],"bandPosition":1.256,"title":null},"y":{"field":"y","type":"quantitative","axis":{"values":[0,0.5,1,1.5,2,2.5,3],"labelOverlap":false,"format":".1f","title":"Tumor weight (g)","titlePadding":9}},"text":{"field":"t"}}}
        ]}
      ], "spacing": 0, "bounds": "flush", "resolve": {"scale": {"color": "independent", "shape": "independent", "xOffset": "independent"}}}
    ], "spacing": 0, "bounds": "flush", "resolve": {"scale": {"color": "independent", "shape": "independent", "xOffset": "independent"}}}
  ], "spacing": 0, "bounds": "flush", "resolve": {"scale": {"color": "independent", "shape": "independent", "xOffset": "independent"}}}
]
}
